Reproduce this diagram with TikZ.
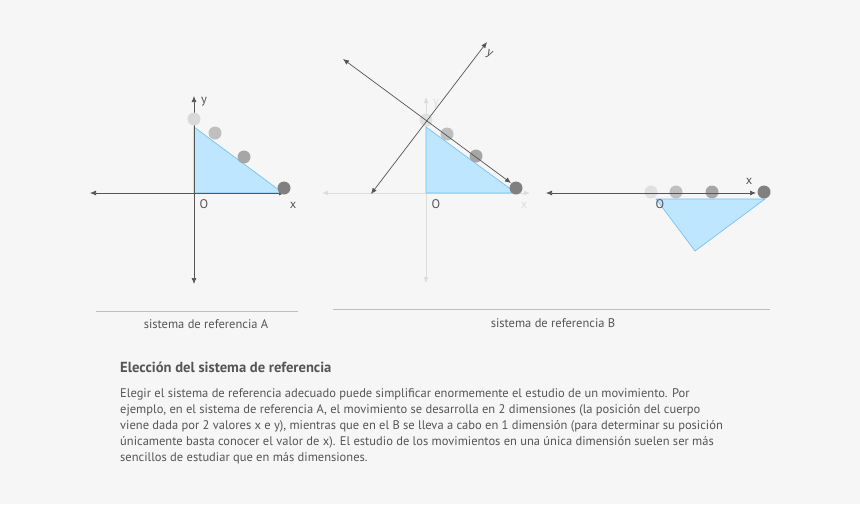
\documentclass[tikz,border=0pt]{standalone}
\usepackage{fontspec}
\setmainfont{PT Sans}
\usetikzlibrary{arrows.meta}
\definecolor{bg}{HTML}{F6F6F6}
\definecolor{ax}{HTML}{555555}
\definecolor{lax}{HTML}{DDDDDD}
\definecolor{tri}{HTML}{BFE6FF}
\definecolor{triE}{HTML}{6CBCF5}
\definecolor{txt}{HTML}{555555}
\tikzset{
 axis/.style={draw=ax,line width=0.7pt,{Latex[length=6pt,width=5pt]}-{Latex[length=6pt,width=5pt]}},
 laxis/.style={draw=lax,line width=0.9pt,{Latex[length=6pt,width=5pt]}-{Latex[length=6pt,width=5pt]}},
 triang/.style={fill=tri,draw=triE,line width=0.6pt},
 ball/.style={circle,minimum size=13pt,inner sep=0pt},
 lab/.style={font=\fontsize{12.5}{14}\selectfont,text=txt,inner sep=0pt},
 sep/.style={draw=black!25,line width=0.5pt}
}
\begin{document}
\begin{tikzpicture}[x=1pt,y=-1pt]
\fill[bg] (0,0) rectangle (860,504);
\useasboundingbox (0,0) rectangle (860,504);
% A
\path[triang] (194,127) -- (194,193) -- (283,193) -- cycle;
\coordinate (at) at (194,96); \coordinate (ab) at (194,284);
\coordinate (al) at (90,193); \coordinate (ar) at (285,193);
\draw[axis] (at) -- (ab);
\draw[axis] (al) -- (ar);
\node[ball,fill=black!15] (a1) at (194,119) {};
\node[ball,fill=black!25] (a2) at (215,133) {};
\node[ball,fill=black!35] (a3) at (244,157) {};
\node[ball,fill=black!50] (a4) at (284,188) {};
\node[lab] (ay) at (204,102) {y};
\node[lab] (ao) at (204,204) {O};
\node[lab] (ax) at (293,205) {x};
\coordinate (s1) at (96,311); \coordinate (s2) at (298,311);
\draw[sep] (s1) -- (s2);
\node[lab] (ca) at (206,324) {sistema de referencia A};
% B
\coordinate (bt) at (426,97); \coordinate (bb) at (426,283);
\coordinate (bl) at (322,193); \coordinate (br) at (530,193);
\draw[laxis] (bt) -- (bb);
\draw[laxis] (bl) -- (br);
\path[triang] (426,127) -- (426,193) -- (516,193) -- cycle;
\node[ball,fill=black!12] (b1) at (426,120) {};
\node[ball,fill=black!25] (b2) at (447,134) {};
\node[ball,fill=black!35] (b3) at (476,156) {};
\node[ball,fill=black!50] (b4) at (516,188) {};
\coordinate (d1) at (343,59); \coordinate (d2) at (511,183);
\coordinate (e1) at (371,194); \coordinate (e2) at (487,42);
\draw[axis] (d1) -- (d2);
\draw[axis] (e1) -- (e2);
\node[lab,text=lax] (by0) at (436,104) {y};
\node[lab,rotate=-30] (by) at (489,54) {y};
\node[lab] (bo) at (436,204) {O};
\node[lab,text=lax] (bx) at (524,205) {x};
\coordinate (s3) at (333,309); \coordinate (s4) at (770,309);
\draw[sep] (s3) -- (s4);
\node[lab] (cb) at (553,323) {sistema de referencia B};
% C
\path[triang] (656,199) -- (765,199) -- (695,251) -- cycle;
\node[ball,fill=black!12] (c1) at (651,192) {};
\node[ball,fill=black!25] (c2) at (676,192) {};
\node[ball,fill=black!35] (c3) at (712,192) {};
\node[ball,fill=black!50] (c4) at (764,192) {};
\coordinate (cl) at (546,193); \coordinate (cr) at (756,193);
\draw[axis] (cl) -- (cr);
\node[lab] (co) at (660,204) {O};
\node[lab] (cx) at (749,181) {x};
% text
\node[lab,anchor=west,font=\fontsize{14.6}{16}\selectfont\bfseries] (h) at (120,367) {Elección del sistema de referencia};
\node[anchor=north west,inner sep=0pt,text=txt,font=\fontsize{12.5}{16}\selectfont,align=left] (p) at (120,388) {Elegir el sistema de referencia adecuado puede simplificar enormemente el estudio de un movimiento. Por\\
ejemplo, en el sistema de referencia A, el movimiento se desarrolla en 2 dimensiones (la posición del cuerpo\\
viene dada por 2 valores x e y), mientras que en el B se lleva a cabo en 1 dimensión (para determinar su posición\\
únicamente basta conocer el valor de x). El estudio de los movimientos en una única dimensión suelen ser más\\
sencillos de estudiar que en más dimensiones.};
\end{tikzpicture}
\end{document}
